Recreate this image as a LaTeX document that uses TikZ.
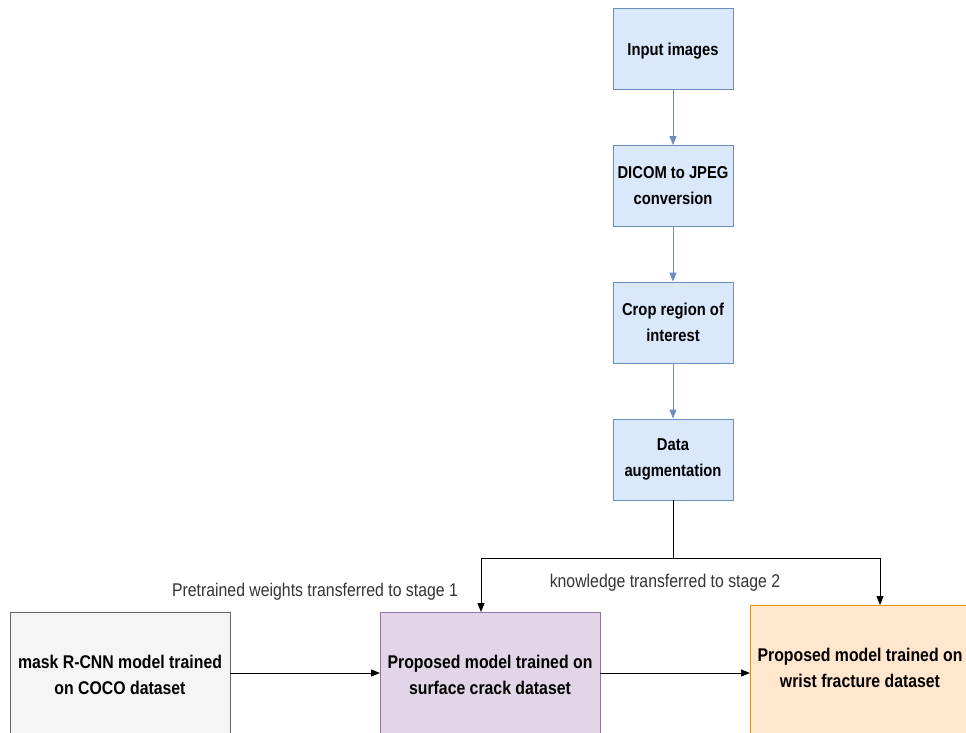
\documentclass[tikz,border=0pt]{standalone}
\usepackage{fontspec}
\setmainfont{Liberation Sans}[FakeStretch=0.86]
\usetikzlibrary{arrows.meta}
\begin{document}
\begin{tikzpicture}[x=1pt,y=-1pt,
  stepbox/.style={draw=#1, line width=0.9pt, minimum width=120pt, minimum height=81pt,
    align=center, inner sep=2pt,
    font=\fontsize{17.2}{26}\selectfont\bfseries},
  bluebox/.style={stepbox=blueedge, fill=bluefill},
  bigbox/.style={draw=#1, line width=0.9pt, minimum width=220pt, minimum height=130pt},
  boxtext/.style={font=\fontsize{18.4}{25.5}\selectfont\bfseries, align=center, text=black},
  flow/.style={draw=blueedge, line width=0.9pt, -{Triangle[length=9pt,width=7pt]}},
  link/.style={draw=black, line width=1pt, -{Triangle[length=9pt,width=7pt]}},
  note/.style={font=\fontsize{18.4}{20}\selectfont, text=darktext}
]
\definecolor{bluefill}{HTML}{DAE8FC}
\definecolor{blueedge}{HTML}{6C8EBF}
\definecolor{grayfill}{HTML}{F5F5F5}
\definecolor{grayedge}{HTML}{666666}
\definecolor{purplefill}{HTML}{E1D5E7}
\definecolor{purpleedge}{HTML}{9673A6}
\definecolor{orangefill}{HTML}{FFE6CC}
\definecolor{orangeedge}{HTML}{D79B00}
\definecolor{darktext}{HTML}{333333}

\useasboundingbox (0,0) rectangle (966,733);

% preprocessing chain
\node[bluebox, text depth=0pt, text height=14pt] (input) at (673,48.5) {Input images};
\node[bluebox] (dicom) at (673,186) {DICOM to JPEG\\conversion};
\node[bluebox] (crop) at (673,322.5) {Crop region of\\interest};
\node[bluebox] (aug) at (673,459.5) {Data\\augmentation};

\draw[flow] (input) -- (dicom);
\draw[flow] (dicom) -- (crop);
\draw[flow] (crop) -- (aug);

% training stages (boxes run past the lower/right edge)
\node[bigbox=grayedge, fill=grayfill, anchor=north west] (mask) at (10,612) {};
\node[bigbox=purpleedge, fill=purplefill, anchor=north west] (stage1) at (380,612) {};
\node[bigbox=orangeedge, fill=orangefill, anchor=north west, minimum width=225pt] (stage2) at (750,605) {};

\node[boxtext] (masktxt) at (120,675) {mask R-CNN model trained\\on COCO dataset};
\node[boxtext] (s1txt) at (490,675) {Proposed model trained on\\surface crack dataset};
\node[boxtext] (s2txt) at (860,668) {Proposed model trained on\\wrist fracture dataset};

% branch from augmentation to both stages
\coordinate (split) at (673,558);
\coordinate (leftturn) at (481,558);
\coordinate (rightturn) at (880,558);
\coordinate (s1top) at (481,612);
\coordinate (s2top) at (880,605);
\draw[line width=1pt] (aug.south) -- (split);
\draw[link] (split) -- (leftturn) -- (s1top);
\draw[link] (split) -- (rightturn) -- (s2top);

% transfer between stages
\coordinate (maskR) at (230,673);
\coordinate (s1L) at (380,673);
\coordinate (s1R) at (600,673);
\coordinate (s2L) at (750,673);
\draw[link] (maskR) -- (s1L);
\draw[link] (s1R) -- (s2L);

\node[note] (pre) at (315,592) {Pretrained weights transferred to stage 1};
\node[note] (know) at (665,583) {knowledge transferred to stage 2};
\end{tikzpicture}
\end{document}
